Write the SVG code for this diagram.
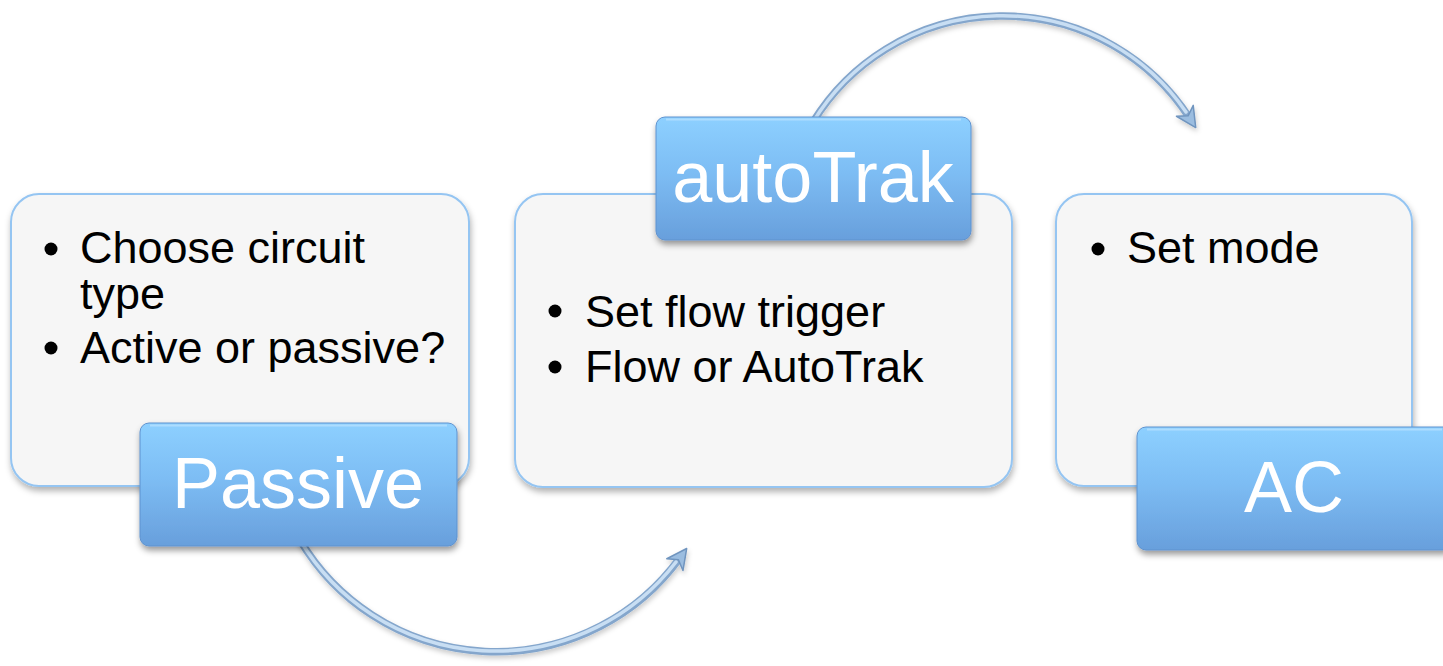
<svg xmlns="http://www.w3.org/2000/svg" width="1443" height="666" viewBox="0 0 1443 666">
  <style>
    .card { fill: #f6f6f6; stroke: #95c5f2; stroke-width: 2; filter: url(#cardShadow); }
    .label { fill: url(#labelGrad); stroke: #5e92cf; stroke-width: 1; filter: url(#labelShadow); }
    .hl { fill: none; stroke: #b5e0ff; stroke-width: 2; opacity: 0.8; }
    .body { font-family: "Liberation Sans", Arial, sans-serif; font-size: 45px; fill: #000; }
    .title { font-family: "Liberation Sans", Arial, sans-serif; font-size: 72px; fill: #fff; text-anchor: middle; }
    .bullet { fill: #000; }
    .arcOuter { fill: none; stroke: #84a6cc; stroke-width: 7.5; stroke-linecap: round; filter: url(#arcShadow); }
    .arcInner { fill: none; stroke: #c8def3; stroke-width: 3.5; stroke-linecap: round; }
  </style>
  <defs>
    <linearGradient id="labelGrad" x1="0" y1="0" x2="0" y2="1">
      <stop offset="0" stop-color="#8dd0ff"/>
      <stop offset="0.45" stop-color="#7dbdf4"/>
      <stop offset="1" stop-color="#689fdc"/>
    </linearGradient>
    <filter id="cardShadow" x="-5%" y="-5%" width="112%" height="115%">
      <feDropShadow dx="1" dy="4" stdDeviation="3" flood-color="#000" flood-opacity="0.3"/>
    </filter>
    <filter id="labelShadow" x="-5%" y="-10%" width="112%" height="130%">
      <feDropShadow dx="1" dy="4" stdDeviation="3" flood-color="#000" flood-opacity="0.4"/>
    </filter>
    <filter id="arcShadow" x="-10%" y="-10%" width="120%" height="130%">
      <feDropShadow dx="1" dy="3" stdDeviation="2.5" flood-color="#000" flood-opacity="0.2"/>
    </filter>
    <marker id="head" markerUnits="userSpaceOnUse" markerWidth="26" markerHeight="26" viewBox="0 0 26 26" refX="11" refY="13" orient="auto">
      <path d="M3 3 L23 13 L3 23 L9 13 Z" fill="#9bbde0" stroke="#7095bf" stroke-width="1.5" stroke-linejoin="round"/>
    </marker>
  </defs>

  <g id="connectors">
    <path class="arcOuter" d="M 300 540 A 227.5 227.5 0 0 0 679.6 558.2" marker-end="url(#head)"/>
    <path class="arcInner" d="M 300 540 A 227.5 227.5 0 0 0 676 562"/>
    <path class="arcOuter" d="M 813 122 A 222.5 222.5 0 0 1 1189.2 117.5" marker-end="url(#head)"/>
    <path class="arcInner" d="M 813 122 A 222.5 222.5 0 0 1 1186 112"/>
  </g>

  <g id="node-passive">
    <rect class="card" x="11" y="194" width="458" height="292" rx="28"/>
    <circle class="bullet" cx="51" cy="249" r="6.5"/>
    <text class="body" x="80" y="263">Choose circuit</text>
    <text class="body" x="80" y="309">type</text>
    <circle class="bullet" cx="51" cy="348" r="6.5"/>
    <text class="body" x="80" y="363">Active or passive?</text>
    <rect class="label" x="140" y="423" width="317" height="123" rx="9"/>
    <path class="hl" d="M 150 425.5 H 447"/>
    <text class="title" x="298" y="508">Passive</text>
  </g>

  <g id="node-autotrak">
    <rect class="card" x="515" y="194" width="497" height="293" rx="28"/>
    <circle class="bullet" cx="555" cy="311" r="6.5"/>
    <text class="body" x="585" y="327">Set flow trigger</text>
    <circle class="bullet" cx="555" cy="367" r="6.5"/>
    <text class="body" x="585" y="382">Flow or AutoTrak</text>
    <rect class="label" x="656" y="117" width="315" height="123" rx="9"/>
    <path class="hl" d="M 666 119.5 H 961"/>
    <text class="title" x="813" y="202">autoTrak</text>
  </g>

  <g id="node-ac">
    <rect class="card" x="1056" y="194" width="356" height="292" rx="28"/>
    <circle class="bullet" cx="1098" cy="249" r="6.5"/>
    <text class="body" x="1127" y="263">Set mode</text>
    <rect class="label" x="1137" y="427" width="315" height="123" rx="9"/>
    <path class="hl" d="M 1147 429.5 H 1442"/>
    <text class="title" x="1294" y="512">AC</text>
  </g>
</svg>
